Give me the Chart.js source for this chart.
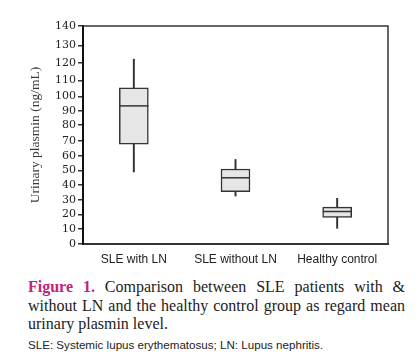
<!DOCTYPE html>
<html>
<head>
<meta charset="utf-8">
<script src="https://cdn.jsdelivr.net/npm/chart.js@4.4.1/dist/chart.umd.min.js"></script>
<style>
  html, body { margin: 0; padding: 0; background: #fff; }
  #wrap { position: relative; width: 417px; height: 360px; }
  canvas { position: absolute; left: 0; top: 0; }
  #caption {
    position: absolute; left: 28px; top: 278px; width: 377px;
    font-family: "Liberation Serif", serif; font-size: 16px; line-height: 18.5px; color: #222;
  }
  #caption .ln { display: block; white-space: nowrap; text-align: justify; text-align-last: justify; }
  #caption .last { display: block; white-space: nowrap; }
  #caption b { color: #c2237b; }
  #note {
    position: absolute; left: 28px; top: 338px;
    font-family: "Liberation Sans", Arial, sans-serif; font-size: 11.6px; color: #222;
  }
</style>
</head>
<body>
<div id="wrap">
  <canvas id="chart" width="417" height="270"></canvas>
  <div id="caption">
    <span class="ln"><b>Figure 1.</b> Comparison between SLE patients with &amp;</span>
    <span class="ln">without LN and the healthy control group as regard mean</span>
    <span class="last">urinary plasmin level.</span>
  </div>
  <div id="note">SLE: Systemic lupus erythematosus; LN: Lupus nephritis.</div>
</div>
<script>
// --- data ---
const groups = ['SLE with LN', 'SLE without LN', 'Healthy control'];
const minVals = [49, 32.5, 10.5];
const q1Vals = [68, 35.5, 18];
const medianVals = [93.5, 45, 22];
const q3Vals = [105.5, 51, 25];
const maxVals = [122, 57.5, 31];
const yTicks = [0, 10, 20, 30, 40, 50, 60, 70, 80, 90, 100, 110, 120, 130, 140];

// the printed axis is not evenly spaced: fraction of axis height at each tick
const tickFractions = [0, 0.0687, 0.1356, 0.2029, 0.2703, 0.3372, 0.4045, 0.4718,
  0.5451, 0.6106, 0.6761, 0.7494, 0.8319, 0.9116, 1];

class WarpedScale extends Chart.LinearScale {
  valueToDecimal(value) {
    const n = yTicks.length - 1;
    let i = 0;
    while (i < n - 1 && value > yTicks[i + 1]) i++;
    const t = (value - yTicks[i]) / (yTicks[i + 1] - yTicks[i]);
    return tickFractions[i] + (tickFractions[i + 1] - tickFractions[i]) * t;
  }
  getPixelForValue(value) {
    if (value === null || isNaN(value)) return NaN;
    return this.getPixelForDecimal(this.valueToDecimal(value));
  }
  getValueForPixel(pixel) {
    const d = this.getDecimalForPixel(pixel);
    let i = 0;
    while (i < tickFractions.length - 2 && d > tickFractions[i + 1]) i++;
    const t = (d - tickFractions[i]) / (tickFractions[i + 1] - tickFractions[i]);
    return yTicks[i] + (yTicks[i + 1] - yTicks[i]) * t;
  }
}
WarpedScale.id = 'warped';
WarpedScale.defaults = {};
Chart.register(WarpedScale);

const ink = '#333333';

// top and right sides of the frame
const framePlugin = {
  id: 'frame',
  afterDraw(chart) {
    const { ctx, chartArea: a } = chart;
    ctx.save();
    ctx.strokeStyle = ink;
    ctx.lineWidth = 1.5;
    ctx.beginPath();
    ctx.moveTo(a.left, a.top);
    ctx.lineTo(a.right, a.top);
    ctx.lineTo(a.right, a.bottom);
    ctx.stroke();
    ctx.restore();
  }
};

new Chart(document.getElementById('chart'), {
  type: 'bar',
  data: {
    labels: groups,
    datasets: [
      {
        type: 'line',
        label: 'Median',
        data: medianVals,
        showLine: false,
        pointStyle: 'line',
        pointRadius: 14.5,
        pointHoverRadius: 14.5,
        pointBorderWidth: 1.5,
        borderColor: ink,
        order: 0
      },
      {
        label: 'IQR',
        data: q1Vals.map((q, i) => [q, q3Vals[i]]),
        backgroundColor: '#e6e6e6',
        borderColor: ink,
        borderWidth: 1.5,
        borderSkipped: false,
        barThickness: 29,
        grouped: false,
        order: 1
      },
      {
        label: 'Range',
        data: minVals.map((m, i) => [m, maxVals[i]]),
        backgroundColor: ink,
        barThickness: 1.3,
        grouped: false,
        order: 2
      }
    ]
  },
  options: {
    responsive: false,
    devicePixelRatio: 1,
    animation: false,
    layout: { padding: { top: 26, right: 29, left: 0, bottom: 0 } },
    plugins: {
      legend: { display: false },
      tooltip: { enabled: false }
    },
    scales: {
      x: {
        grid: { display: false, drawTicks: false },
        border: { display: true, color: ink, width: 2 },
        ticks: {
          padding: 8,
          color: '#222',
          font: { family: '"Liberation Sans", Arial, sans-serif', size: 12 }
        },
        afterFit: (scale) => { scale.height = 26; }
      },
      y: {
        type: 'warped',
        min: 0,
        max: 140,
        afterBuildTicks: (scale) => { scale.ticks = yTicks.map(v => ({ value: v })); },
        grid: { drawOnChartArea: false, tickLength: 5, color: ink, lineWidth: 1.5 },
        border: { display: true, color: '#111', width: 2 },
        ticks: {
          autoSkip: false,
          padding: 2,
          color: '#222',
          font: { family: '"DejaVu Serif", serif', size: 11 }
        },
        title: {
          display: true,
          text: 'Urinary plasmin (ng/mL)',
          color: '#3a3a3a',
          padding: { top: 27, bottom: 0 },
          font: { family: '"Liberation Serif", serif', size: 13.5 }
        },
        afterFit: (scale) => { scale.width = 83; }
      }
    }
  },
  plugins: [framePlugin]
});
</script>
</body>
</html>
